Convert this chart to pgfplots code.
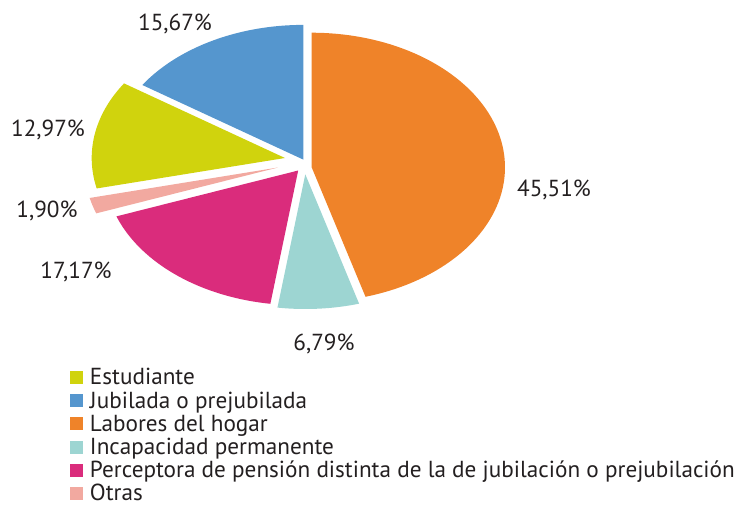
\documentclass[border=0pt]{standalone}
\usepackage{pgfplots}
\pgfplotsset{compat=1.18}
\usepackage{fontspec}
\setmainfont{PT Sans}
\definecolor{cOrange}{RGB}{239,131,41}
\definecolor{cBlue}{RGB}{85,150,206}
\definecolor{cYellow}{RGB}{208,211,13}
\definecolor{cTeal}{RGB}{157,213,210}
\definecolor{cMagenta}{RGB}{218,44,124}
\definecolor{cSalmon}{RGB}{242,169,160}
\definecolor{cText}{RGB}{35,31,32}
% slice: #1 cumulative % before, #2 value %, #3 cx, #4 cy (exploded centre), #5 colour
\newcommand{\slice}[5]{%
  \pgfmathsetmacro{\tA}{90-3.6*(#1+#2)}%
  \pgfmathsetmacro{\tB}{90-3.6*(#1)}%
  \edef\temp{\noexpand\addplot[fill=#5, draw=none, domain=\tA:\tB, samples=90, forget plot, variable=\noexpand\t]
    ({#3+193.3*cos(\noexpand\t)},{#4+134.7*sin(\noexpand\t)}) -- (axis cs:#3,#4) -- cycle;}%
  \temp
}
\begin{document}
\begin{tikzpicture}[font=\fontsize{11.6pt}{13pt}\selectfont, text=cText]
\begin{axis}[
  hide axis, scale only axis,
  width=370pt, height=252.5pt,
  xmin=0, xmax=740, ymin=0, ymax=505,
  clip=false,
  legend image code/.code={\fill[#1, draw=none] (0pt,-3.25pt) rectangle (6.5pt,3.25pt);},
  legend cell align=left,
  legend style={at={(axis cs:70,137)}, anchor=north west, draw=none, fill=none,
    inner sep=0pt, outer sep=0pt, row sep=2.1pt, column sep=0pt,
    font=\fontsize{11.6pt}{13pt}\selectfont, text=cText,
    nodes={inner sep=0pt, outer sep=0pt, text height=8.4pt, text depth=1.1pt},
    /tikz/every odd column/.style={column sep=3.5pt}},
]
% values (%): Labores 45.51, Incapacidad 6.79, Perceptora 17.17, Otras 1.90, Estudiante 12.97, Jubilada 15.67
\slice{0}{45.51}{311.7}{337.6}{cOrange}
\slice{45.51}{6.79}{305.3}{330.7}{cTeal}
\slice{52.30}{17.17}{298.2}{334.5}{cMagenta}
\slice{69.47}{1.90}{278.0}{337.5}{cSalmon}
\slice{71.37}{12.97}{285.0}{347.0}{cYellow}
\slice{84.34}{15.67}{303.3}{345.4}{cBlue}

\node[anchor=base] at (axis cs:554,309) {45,51\%};
\node[anchor=base] at (axis cs:324,155) {6,79\%};
\node[anchor=base] at (axis cs:76,227) {17,17\%};
\node[anchor=base] at (axis cs:47,288) {1,90\%};
\node[anchor=base] at (axis cs:48,369) {12,97\%};
\node[anchor=base] at (axis cs:175,474) {15,67\%};

\addlegendimage{fill=cYellow}
\addlegendentry{Estudiante}
\addlegendimage{fill=cBlue}
\addlegendentry{Jubilada o prejubilada}
\addlegendimage{fill=cOrange}
\addlegendentry{Labores del hogar}
\addlegendimage{fill=cTeal}
\addlegendentry{Incapacidad permanente}
\addlegendimage{fill=cMagenta}
\addlegendentry{Perceptora de pensión distinta de la de jubilación o prejubilación}
\addlegendimage{fill=cSalmon}
\addlegendentry{Otras}
\end{axis}
\pgfresetboundingbox
\path (current axis.south west) rectangle (current axis.north east);
\end{tikzpicture}
\end{document}
